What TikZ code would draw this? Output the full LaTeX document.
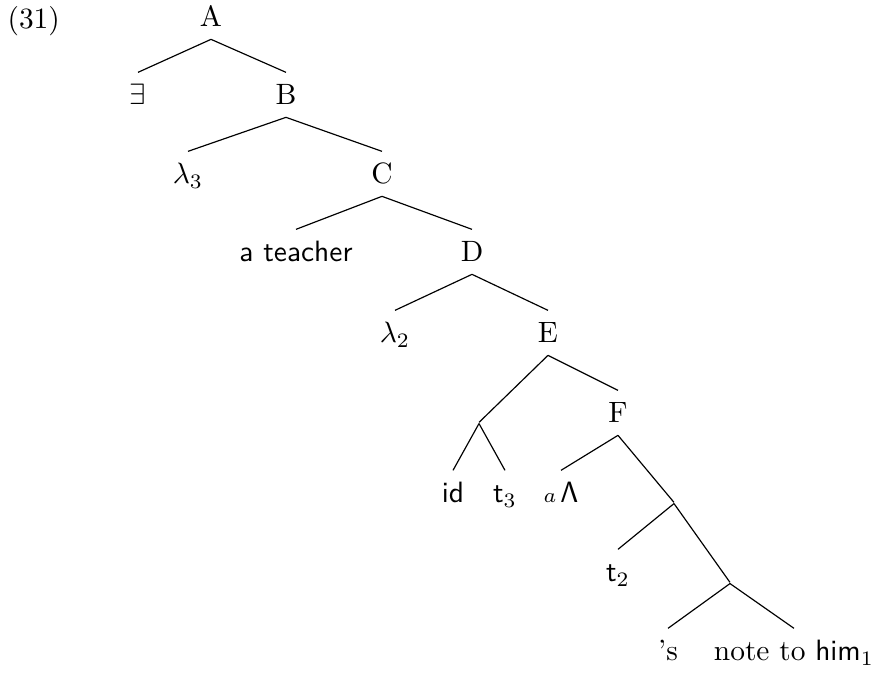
\documentclass[tikz,border=0pt]{standalone}
\usepackage{amsmath}
\begin{document}
\begin{tikzpicture}[
  x=0.34pt, y=-0.34pt,
  lab/.style={anchor=base, inner xsep=1pt, inner ysep=4pt,
              text height=6.9pt, text depth=0pt},
  branchpt/.style={inner sep=0pt, minimum size=0pt},
  branch/.style={thin},
  ]
\useasboundingbox (0,0) rectangle (882,673);

% ---- Example number ----------------------------------------------------------
\node[anchor=base west, inner sep=0pt] (exnum) at (7,29) {(31)};

% ---- Labelled nodes ----------------------------------------------------------
\node[lab] (A)   at (211,27)  {A};
\node[lab] (ex)  at (138,105) {$\exists$};
\node[lab] (B)   at (286,105) {B};
\node[lab] (lamthree) at (188,184) {$\lambda_3$};
\node[lab] (C)   at (382,184) {C};
\node[lab] (teacher) at (296,262) {\textsf{a teacher}};
\node[lab] (D)   at (472,262) {D};
\node[lab] (lamtwo) at (395,343) {$\lambda_2$};
\node[lab] (E)   at (548,343) {E};
\node[lab] (F)   at (618,423) {F};
\node[lab] (id)  at (453,503) {\textsf{id}};
\node[lab] (tthree) at (505,503) {\textsf{t}$_3$};
\node[lab] (wedge) at (561,503) {$\scriptstyle a\,\textstyle\mathsf{\Lambda}$};
\node[lab] (ttwo) at (618,582) {\textsf{t}$_2$};
\node[lab] (poss) at (668,661) {'s};
\node[lab] (note) at (794,661) {note to \textsf{him}$_1$};

% ---- Unlabelled branching points ---------------------------------------------
\node[branchpt] (jone)   at (479,423) {};
\node[branchpt] (jtwo)   at (674,503) {};
\node[branchpt] (jthree) at (730,583) {};

% ---- Branches ----------------------------------------------------------------
\foreach \p/\c in {A/ex, A/B, B/lamthree, B/C, C/teacher, C/D, D/lamtwo, D/E,
                   E/jone, E/F, jone/id, jone/tthree, F/wedge, F/jtwo,
                   jtwo/ttwo, jtwo/jthree, jthree/poss, jthree/note}
  \draw[branch] (\p.south) -- (\c.north);

\end{tikzpicture}
\end{document}
